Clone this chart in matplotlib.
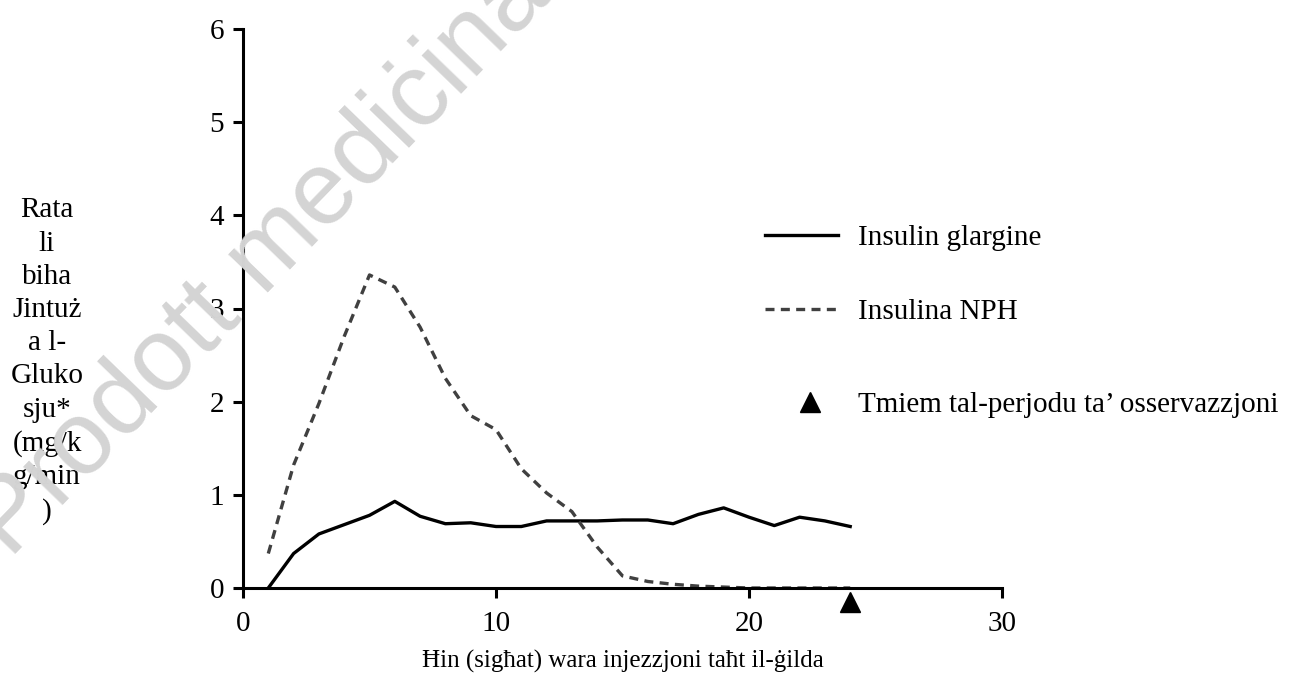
import matplotlib
matplotlib.use('Agg')
import matplotlib.pyplot as plt

plt.rcParams['font.family'] = ['Liberation Serif', 'DejaVu Serif']

# Hours after injection
hours = [1, 2, 3, 4, 5, 6, 7, 8, 9, 10, 11, 12, 13, 14, 15, 16, 17, 18, 19, 20, 21, 22, 23, 24]

# Glucose utilisation rate (mg/kg/min)
glargine = [0.0, 0.37, 0.58, 0.68, 0.78, 0.93, 0.77, 0.69, 0.70, 0.66, 0.66, 0.72,
            0.72, 0.72, 0.73, 0.73, 0.69, 0.79, 0.86, 0.76, 0.67, 0.76, 0.72, 0.66]
nph = [0.37, 1.32, 1.98, 2.70, 3.36, 3.23, 2.80, 2.25, 1.85, 1.70, 1.28, 1.02,
       0.82, 0.44, 0.13, 0.07, 0.04, 0.02, 0.01, 0.0, 0.0, 0.0, 0.0, 0.0]

end_of_observation = 24

xticks = [0, 10, 20, 30]
yticks = [0, 1, 2, 3, 4, 5, 6]

W, H = 1303, 684
fig = plt.figure(figsize=(W / 100, H / 100), dpi=100)
ax = fig.add_axes([243 / W, 1 - 588 / H, (1002 - 243) / W, (588 - 29) / H])

l1, = ax.plot(hours, glargine, color='black', linewidth=2.4, label='Insulin glargine')
l2, = ax.plot(hours, nph, color='#404040', linewidth=2.4, linestyle=(0, (2.7, 1.9)),
              label='Insulina NPH')
l3, = ax.plot([end_of_observation], [-0.15], marker='^', color='black', markersize=14,
              linestyle='None', clip_on=False,
              label='Tmiem tal-perjodu ta\u2019 osservazzjoni')

ax.set_xlim(0, 30)
ax.set_ylim(0, 6)
ax.set_xticks(xticks)
ax.set_yticks(yticks)

for side in ['top', 'right']:
    ax.spines[side].set_visible(False)
for side in ['left', 'bottom']:
    ax.spines[side].set_linewidth(2.2)
ax.tick_params(axis='both', direction='out', length=7.5, width=2.2, labelsize=21)
ax.tick_params(axis='y', pad=6)
ax.tick_params(axis='x', pad=9)

ax.set_xlabel('\u0126in (sig\u0127at) wara injezzjoni ta\u0127t il-\u0121ilda',
              fontsize=18, labelpad=9)

fig.text(47 / W, 1 - 361 / H,
         'Rata\nli\nbiha\nJintu\u017c\na l-\nGluko\nsju*\n(mg/k\ng/min\n)',
         ha='center', va='center', multialignment='center', fontsize=21, linespacing=1.36)

# legend: two lines, then the triangle a bit further down
leg1 = ax.legend(handles=[l1, l2], loc='upper left',
                 bbox_to_anchor=(765 / W, 1 - 225 / H), bbox_transform=fig.transFigure,
                 frameon=False, fontsize=21, handlelength=2.5, handletextpad=0.68,
                 labelspacing=1.63, borderpad=0, borderaxespad=0)
ax.add_artist(leg1)
ax.legend(handles=[l3], loc='upper left',
          bbox_to_anchor=(773.5 / W, 1 - 392 / H), bbox_transform=fig.transFigure,
          frameon=False, fontsize=21, handlelength=2.5, handletextpad=0.39,
          borderpad=0, borderaxespad=0)

# watermark
fig.text(10 / W, 1 - 560 / H, 'Prodott medi\u010binali li m\u2019g\u0127adux awtorizzat',
         rotation=46, rotation_mode='anchor', ha='left', va='baseline',
         fontsize=75, color='#d4d4d4', family='Liberation Sans', zorder=10)

fig.savefig('out.png', dpi=100)
